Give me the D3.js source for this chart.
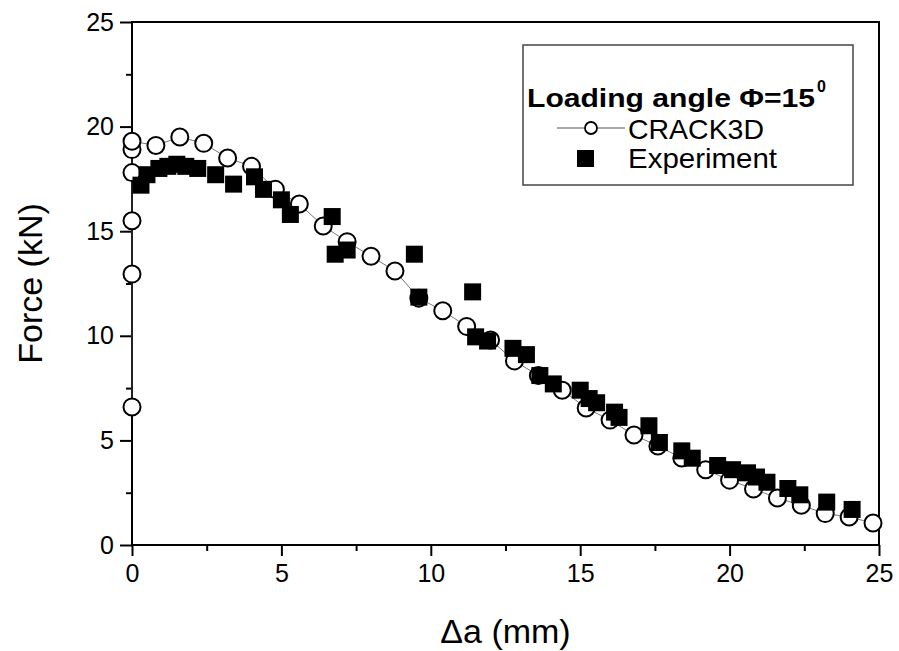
<!DOCTYPE html>
<html>
<head>
<meta charset="utf-8">
<script src="https://cdn.jsdelivr.net/npm/d3@7"></script>
<style>
  body { margin: 0; background: white; }
  svg text { font-family: "Liberation Sans", Arial, sans-serif; }
</style>
</head>
<body>
<div id="container"></div>
<script>
let w = 899;
let h = 651;

// CRACK3D prediction: crack extension (mm) and force (kN)
let crackX = [0, 0, 0, 0, 0, 0, 0.8, 1.6, 2.4, 3.2, 4.0, 4.8, 5.6, 6.4, 7.2, 8.0, 8.8, 9.6,
  10.4, 11.2, 12.0, 12.8, 13.6, 14.4, 15.2, 16.0, 16.8, 17.6, 18.4, 19.2, 20.0, 20.8,
  21.6, 22.4, 23.2, 24.0, 24.8];
let crackY = [6.6, 12.95, 15.5, 17.8, 18.9, 19.3, 19.1, 19.5, 19.2, 18.5, 18.1, 17.0, 16.3,
  15.25, 14.5, 13.8, 13.1, 11.8, 11.2, 10.45, 9.8, 8.8, 8.1, 7.4, 6.55, 5.97, 5.26, 4.73,
  4.16, 3.6, 3.1, 2.68, 2.25, 1.9, 1.5, 1.34, 1.05];

// experiment
let expX = [0.3, 0.5, 0.9, 1.2, 1.5, 1.8, 2.2, 2.8, 3.4, 4.1, 4.4, 5.0, 5.3, 6.7, 6.8, 7.2,
  9.45, 9.6, 11.4, 11.5, 11.9, 12.75, 13.2, 13.65, 14.1, 15.0, 15.3, 15.55, 16.15, 16.3,
  17.3, 17.65, 18.4, 18.75, 19.6, 20.1, 20.6, 20.9, 21.25, 21.95, 22.35, 23.25, 24.1];
let expY = [17.2, 17.7, 18.0, 18.1, 18.2, 18.1, 18.0, 17.7, 17.25, 17.6, 17.0, 16.5, 15.8,
  15.7, 13.9, 14.1, 13.9, 11.85, 12.1, 9.95, 9.75, 9.4, 9.1, 8.1, 7.7, 7.4, 7.0, 6.8, 6.35,
  6.1, 5.7, 4.9, 4.5, 4.15, 3.8, 3.6, 3.45, 3.25, 3.0, 2.7, 2.4, 2.05, 1.7];

let majorTicks = [0, 5, 10, 15, 20, 25];
let minorTicks = [2.5, 7.5, 12.5, 17.5, 22.5];

let crackData = crackX.map(function(d, i){ return {x: d, y: crackY[i]}; });
let expData = expX.map(function(d, i){ return {x: d, y: expY[i]}; });

// window.top exists already, so plot* names
let plotLeft = 132, plotRight = 879, plotTop = 22, plotBottom = 545;

let xScale = d3.scaleLinear().domain([0, 25]).range([plotLeft, plotRight]);
let yScale = d3.scaleLinear().domain([0, 25]).range([plotBottom, plotTop]);

let viz = d3.select("#container")
  .append("svg")
    .attr("width", w)
    .attr("height", h)
    .style("background-color", "white")
;

// minor ticks
viz.append("g")
  .attr("transform", "translate(0," + plotBottom + ")")
  .call(d3.axisBottom(xScale).tickValues(minorTicks).tickSize(6).tickFormat(""))
  .call(function(g){ g.select(".domain").remove(); })
  .selectAll("line").attr("stroke-width", 2);
viz.append("g")
  .attr("transform", "translate(" + plotLeft + ",0)")
  .call(d3.axisLeft(yScale).tickValues(minorTicks).tickSize(6).tickFormat(""))
  .call(function(g){ g.select(".domain").remove(); })
  .selectAll("line").attr("stroke-width", 2);

// major ticks with labels
let xAxis = viz.append("g")
  .attr("transform", "translate(0," + plotBottom + ")")
  .call(d3.axisBottom(xScale).tickValues(majorTicks).tickSize(11).tickPadding(8).tickFormat(d3.format("d")));
xAxis.select(".domain").remove();
xAxis.selectAll("line").attr("stroke-width", 2);
xAxis.selectAll("text").attr("font-size", 25).attr("fill", "black")
  .attr("font-family", "Liberation Sans, Arial, sans-serif");

let yAxis = viz.append("g")
  .attr("transform", "translate(" + plotLeft + ",0)")
  .call(d3.axisLeft(yScale).tickValues(majorTicks).tickSize(12).tickPadding(6).tickFormat(d3.format("d")));
yAxis.select(".domain").remove();
yAxis.selectAll("line").attr("stroke-width", 2);
yAxis.selectAll("text").attr("font-size", 25).attr("fill", "black")
  .attr("font-family", "Liberation Sans, Arial, sans-serif");

// frame
viz.append("rect")
  .attr("x", plotLeft)
  .attr("y", plotTop)
  .attr("width", plotRight - plotLeft)
  .attr("height", plotBottom - plotTop)
  .attr("fill", "none")
  .attr("stroke", "black")
  .attr("stroke-width", 2);

// axis titles
viz.append("text")
  .attr("x", (plotLeft + plotRight) / 2)
  .attr("y", 643)
  .attr("text-anchor", "middle")
  .attr("font-size", 34)
  .text("\u0394a (mm)");

viz.append("text")
  .attr("transform", "translate(42," + (plotTop + plotBottom) / 2 + ") rotate(-90)")
  .attr("text-anchor", "middle")
  .attr("font-size", 34)
  .text("Force (kN)");

// CRACK3D line + circles
let line = d3.line()
  .x(function(d){ return xScale(d.x); })
  .y(function(d){ return yScale(d.y); });

viz.append("path")
  .datum(crackData)
  .attr("d", line)
  .attr("fill", "none")
  .attr("stroke", "#555")
  .attr("stroke-width", 0.8);

viz.selectAll(".crack").data(crackData).enter()
  .append("circle")
    .classed("crack", true)
    .attr("cx", function(d){ return xScale(d.x); })
    .attr("cy", function(d){ return yScale(d.y); })
    .attr("r", 8.5)
    .attr("fill", "white")
    .attr("stroke", "black")
    .attr("stroke-width", 2);

// experiment squares
let sq = 17;
viz.selectAll(".exp").data(expData).enter()
  .append("rect")
    .classed("exp", true)
    .attr("x", function(d){ return xScale(d.x) - sq / 2; })
    .attr("y", function(d){ return yScale(d.y) - sq / 2; })
    .attr("width", sq)
    .attr("height", sq)
    .attr("fill", "black");

// legend
let legend = viz.append("g");
legend.append("rect")
  .attr("x", 523)
  .attr("y", 45)
  .attr("width", 330)
  .attr("height", 140)
  .attr("fill", "white")
  .attr("stroke", "#444")
  .attr("stroke-width", 1.5);

legend.append("text")
  .attr("x", 527)
  .attr("y", 107)
  .attr("font-size", 26)
  .attr("font-weight", "bold")
  .attr("textLength", 288)
  .attr("lengthAdjust", "spacingAndGlyphs")
  .text("Loading angle \u03A6=15");
legend.append("text")
  .attr("x", 817)
  .attr("y", 92)
  .attr("font-size", 16)
  .attr("font-weight", "bold")
  .text("0");

legend.append("line")
  .attr("x1", 557).attr("x2", 625)
  .attr("y1", 128).attr("y2", 128)
  .attr("stroke", "#555")
  .attr("stroke-width", 1);
legend.append("circle")
  .attr("cx", 591).attr("cy", 128).attr("r", 6)
  .attr("fill", "white").attr("stroke", "black").attr("stroke-width", 1.8);
legend.append("text")
  .attr("x", 628).attr("y", 139)
  .attr("font-size", 28)
  .attr("textLength", 136)
  .attr("lengthAdjust", "spacingAndGlyphs")
  .text("CRACK3D");

legend.append("rect")
  .attr("x", 577).attr("y", 150).attr("width", 17).attr("height", 17)
  .attr("fill", "black");
legend.append("text")
  .attr("x", 628).attr("y", 168)
  .attr("font-size", 28)
  .attr("textLength", 149)
  .attr("lengthAdjust", "spacingAndGlyphs")
  .text("Experiment");
</script>
</body>
</html>
